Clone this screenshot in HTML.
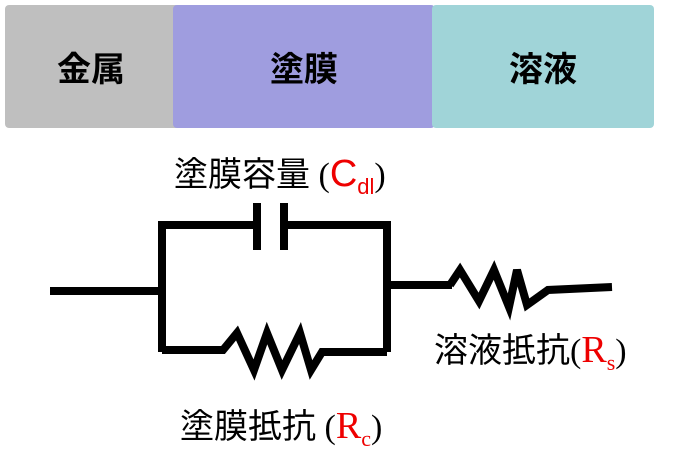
<!DOCTYPE html>
<html><head><meta charset="utf-8"><style>
body{margin:0;width:678px;height:472px;background:#fff;overflow:hidden;position:relative;font-family:"Liberation Sans","Noto Sans CJK JP",sans-serif}
.b{position:absolute;top:5px;height:123px;display:flex;align-items:center;justify-content:center;font-weight:bold;font-size:34px;color:#000;font-family:"Noto Sans CJK JP",sans-serif}
.l{position:absolute;font-size:34px;color:#000;white-space:nowrap;font-family:"Liberation Serif","Noto Sans CJK JP",serif;line-height:40px}
.r{color:#e00;font-size:38px}
sub{font-size:22px;vertical-align:-8px}
</style></head><body>
<div class="b" style="left:5px;width:172px;background:#bfbfbf;border-radius:4px 0 0 4px">金属</div>
<div class="b" style="left:173px;width:262px;background:#9f9ddf;border-radius:4px">塗膜</div>
<div class="b" style="left:432px;width:222px;background:#a0d4d8;border-radius:4px">溶液</div>
<svg width="678" height="472" style="position:absolute;left:0;top:0" fill="none" stroke="#000" stroke-width="8">
<line x1="50" y1="291" x2="162" y2="291"/>
<polyline points="162,352 162,225 257,225"/>
<polyline points="284,225 387,225 387,352"/>
<line x1="257" y1="203" x2="257" y2="250"/>
<line x1="284" y1="203" x2="284" y2="250"/>
<polyline points="162,350 223,350 237,333 254,370 267,333 282,370 300,333 311,370 322,352 387,352"/>
<line x1="387" y1="285" x2="452" y2="285"/>
<polyline points="450,285 460,270 479,301 494,270 509,307 517,270 527,305 548,290 612,287"/>
</svg>
<div class="l" style="left:174px;top:152px"><span style="font-family:'Noto Sans CJK JP'">塗膜容量</span> (<span class="r" style="font-family:'Liberation Sans'">C<sub>dl</sub></span>)</div>
<div class="l" style="left:434px;top:328px"><span style="font-family:'Noto Sans CJK JP'">溶液抵抗</span>(<span class="r">R<sub>s</sub></span>)</div>
<div class="l" style="left:180px;top:404px"><span style="font-family:'Noto Sans CJK JP'">塗膜抵抗</span> (<span class="r">R<sub>c</sub></span>)</div>
</body></html>
